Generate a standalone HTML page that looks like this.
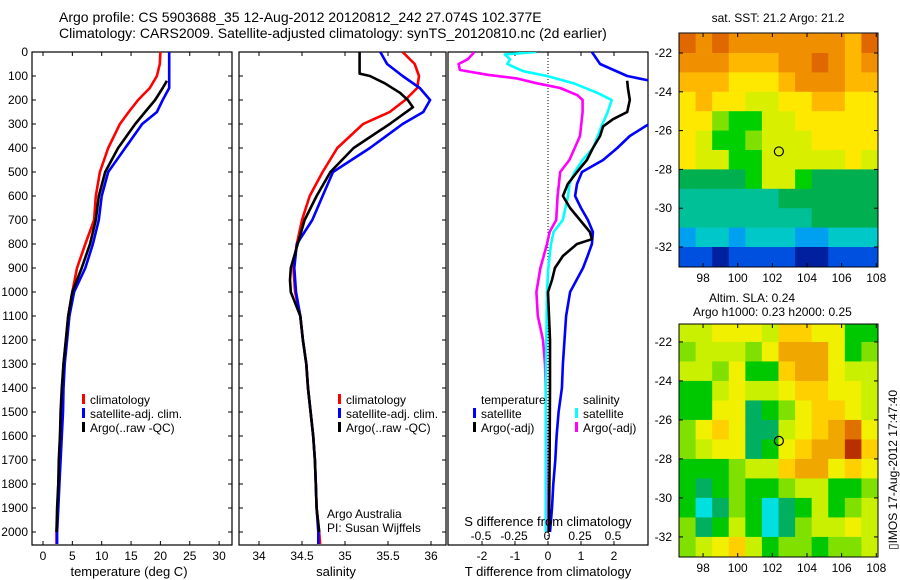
<!DOCTYPE html>
<html><head><meta charset="utf-8"><style>
body{margin:0;background:#fff}
svg{display:block;font-family:"Liberation Sans",sans-serif}
</style></head><body>
<svg id="fig" width="900" height="580" viewBox="0 0 900 580">
<rect width="900" height="580" fill="#fff"/>
<text x="59" y="22" font-size="14">Argo profile: CS 5903688_35 12-Aug-2012 20120812_242 27.074S 102.377E</text>
<text x="59" y="38" font-size="14">Climatology: CARS2009. Satellite-adjusted climatology: synTS_20120810.nc (2d earlier)</text>
<defs>
<clipPath id="c1"><rect x="32" y="52" width="200" height="493"/></clipPath>
<clipPath id="c2"><rect x="239" y="52" width="207" height="493"/></clipPath>
<clipPath id="c3"><rect x="448" y="52" width="200" height="493"/></clipPath>
</defs>
<g id="p1"></g>
<g id="p2"></g>
<g id="p3"></g>
<g id="m1"></g>
<g id="m2"></g>
<text x="129" y="576" font-size="13" text-anchor="middle">temperature (deg C)</text>
<text x="336" y="576" font-size="13" text-anchor="middle">salinity</text>
<text x="548" y="576" font-size="13" text-anchor="middle">T difference from climatology</text>
<text x="548" y="526" font-size="13" text-anchor="middle">S difference from climatology</text>
<text x="327" y="518" font-size="12">Argo Australia</text>
<text x="327" y="532" font-size="12">PI: Susan Wijffels</text>
<text x="778" y="22" font-size="12" text-anchor="middle">sat. SST: 21.2 Argo: 21.2</text>
<text x="709" y="302" font-size="12">Altim. SLA: 0.24</text>
<text x="693" y="316" font-size="12">Argo h1000: 0.23 h2000: 0.25</text>
<text transform="translate(897,470) rotate(-90)" font-size="12" text-anchor="middle">▯IMOS 17-Aug-2012 17:47:40</text>
</svg>
<script>
// ---- data ----
const depthT = [0,50,100,150,200,250,300,400,500,600,700,800,900,1000,1100,1200,1300,1400,1500,1600,1700,1800,1900,2000,2050];
const tempClim = [20.0,19.9,19.4,18.2,16.2,14.6,13.1,11.1,9.7,9.0,8.7,7.2,5.8,5.0,4.3,3.9,3.5,3.3,3.1,2.9,2.8,2.6,2.5,2.3,2.3];
const tempSat  = [21.5,21.5,21.5,21.5,20.4,19.4,16.9,14.0,11.1,10.0,9.5,8.5,7.2,5.3,4.5,4.1,3.7,3.5,3.4,3.2,3.0,2.8,2.6,2.4,2.4];
const depthArgo = [120,150,200,250,300,400,500,600,700,800,900,1000,1100,1200,1300,1400,1500,1600,1700,1800,1900,2000];
const tempArgo = [21.1,20.4,19.1,17.4,15.7,12.8,10.6,9.5,9.0,8.0,6.6,5.0,4.3,3.9,3.5,3.2,3.0,2.9,2.7,2.6,2.4,2.3];
const depthS = [0,50,100,150,200,250,300,400,500,600,700,800,900,1000,1100,1200,1300,1400,1500,1600,1700,1800,1900,2000,2050];
const salClim = [35.67,35.81,35.86,35.84,35.70,35.52,35.21,34.91,34.74,34.59,34.50,34.44,34.40,34.42,34.48,34.51,34.55,34.57,34.60,34.63,34.65,34.66,34.67,34.70,34.71];
const salSat  = [35.41,35.49,35.67,35.87,35.99,35.91,35.67,35.29,34.86,34.74,34.62,34.44,34.41,34.43,34.48,34.51,34.55,34.57,34.60,34.63,34.65,34.66,34.67,34.69,34.69];
const depthSA = [0,90,100,130,170,200,230,300,400,500,600,700,800,900,950,1000,1100,1200,1300,1400,1500,1600,1700,1800,1900,2000];
const salArgo = [35.17,35.17,35.29,35.46,35.64,35.73,35.79,35.52,35.10,34.83,34.67,34.53,34.45,34.37,34.36,34.37,34.48,34.51,34.55,34.57,34.60,34.63,34.65,34.66,34.67,34.70];
const depthD = [0,50,100,120,150,200,250,300,350,400,450,500,550,600,650,700,750,800,850,900,1000,1100,1200,1300,1400,1500,1600,1700,1800,1900,2000];
const dTsat = [1.33,1.58,2.4,3.1,3.6,3.9,3.6,3.06,2.48,2.1,1.67,1.03,0.88,0.82,1.0,1.21,1.36,1.33,1.2,1.06,0.67,0.55,0.5,0.45,0.42,0.32,0.26,0.22,0.16,0.12,0.06];
const depthDA = [120,150,200,250,280,310,350,400,450,500,550,600,650,700,750,780,800,850,900,950,1000,1200,1400,1700,2000];
const dTargo = [2.4,2.42,2.48,2.4,1.97,1.67,1.58,1.36,1.18,0.88,0.6,0.45,0.67,0.97,1.27,1.33,0.88,0.45,0.21,0.12,0.0,0.06,0.06,0.05,0.03];
const depthDS = [0,10,30,50,80,100,130,170,200,250,300,400,450,500,550,600,700,750,800,900,1000,1400,2000];
const dSsat = [-0.08,-0.32,-0.28,-0.30,-0.18,0.0,0.2,0.38,0.49,0.46,0.42,0.35,0.27,0.21,0.17,0.16,0.12,0.05,0.03,0.01,0.0,-0.01,-0.01];
const depthDSA = [0,30,50,75,95,110,130,150,180,200,250,300,350,400,450,500,550,600,700,750,800,900,1000,1100,1200,1300,1400,2000];
const dSargo = [-0.55,-0.6,-0.67,-0.66,-0.45,-0.23,-0.08,0.1,0.23,0.27,0.27,0.26,0.25,0.21,0.17,0.1,0.09,0.08,0.07,0.02,0.0,-0.05,-0.08,-0.07,-0.03,-0.015,-0.01,0.0];
const depthTicks = [0,100,200,300,400,500,600,700,800,900,1000,1100,1200,1300,1400,1500,1600,1700,1800,1900,2000];
const tempTicks = [0,5,10,15,20,25,30];
const salTicks = [34,34.5,35,35.5,36];
const salTickLabels = ["34","34.5","35","35.5","36"];
const dTTicks = [-2,-1,0,1,2];
const dSTicks = [-0.5,-0.25,0,0.25,0.5];
const dSTickLabels = ["-0.5","-0.25","0","0.25","0.5"];
const lonTicks = [98,100,102,104,106,108];
const latTicks = [-22,-24,-26,-28,-30,-32];
const argoLon = 102.377, argoLat = -27.074;
const sstGrid = [
[12,11,12,11,11,11,11,11,11,11,10,12],
[11,11,11,10,10,10,11,11,12,11,10,11],
[10,10,10,9,9,9,10,11,11,11,10,10],
[9,10,9,9,8,8,9,9,10,10,9,9],
[9,9,7,6,6,8,8,9,9,9,9,9],
[9,8,6,6,7,8,8,8,9,9,9,9],
[9,8,8,6,6,8,8,8,8,8,9,8],
[5,5,5,5,6,8,8,6,5,5,5,5],
[4,4,4,4,4,4,5,5,5,5,5,5],
[4,4,4,4,4,4,4,4,5,5,5,5],
[2,3,3,2,3,3,3,2,2,3,3,3],
[1,1,0,1,1,1,1,0,0,1,1,1]];
const slaGrid = [
[4,4,5,5,5,4,6,6,5,5,2,2],
[3,4,4,4,3,5,7,7,7,5,2,3],
[4,4,3,5,2,2,6,7,7,5,4,4],
[2,2,4,5,4,4,5,6,6,5,5,4],
[2,2,5,5,1,2,3,5,6,6,5,4],
[3,5,6,5,1,1,4,5,6,7,8,5],
[3,4,5,5,1,2,5,6,7,7,9,6],
[2,2,2,3,4,4,6,7,7,5,6,5],
[2,1,2,3,2,2,3,4,4,2,2,3],
[2,0,1,3,2,0,1,2,4,2,3,4],
[3,1,2,4,2,0,1,3,4,4,5,4],
[3,4,5,6,4,2,3,3,2,3,3,4]];
// ---- helpers ----
const NS="http://www.w3.org/2000/svg";
function mk(tag,attrs,parent){const e=document.createElementNS(NS,tag);for(const k in attrs)e.setAttribute(k,attrs[k]);parent.appendChild(e);return e;}
const yD=d=>52+0.24*d;
const xT=t=>43+5.87*t;
const xS=s=>259+86*(s-34);
const xdT=t=>548+33*t;
const xdS=s=>547+132*s;
function line(g,xs,ds,fx,color,name,w){
  const pts=xs.map((v,i)=>fx(v).toFixed(1)+","+yD(ds[i]).toFixed(1)).join(" ");
  const p=mk("polyline",{points:pts,fill:"none",stroke:color,"stroke-width":w||2.6,"stroke-linejoin":"round"},g);
  
  
}
function frame(g,x,w,name){
  const r=mk("rect",{x:x,y:52,width:w,height:493,fill:"none",stroke:"#000","stroke-width":1.2},g);
  
  
}
function legend(g,x,y,color,label,name){
  mk("rect",{x:x,y:y-10,width:3,height:10,fill:color},g);
  const t=mk("text",{x:x+8,y:y,"font-size":12},g);t.textContent=label;
  
  
}
// ---- panel 1 ----
const p1=document.getElementById("p1");
frame(p1,32,200,"temperature-plot-frame");
depthTicks.forEach(d=>{
  mk("line",{x1:32,x2:36,y1:yD(d),y2:yD(d),stroke:"#000"},p1);
  mk("line",{x1:228,x2:232,y1:yD(d),y2:yD(d),stroke:"#000"},p1);
  const t=mk("text",{x:28,y:yD(d)+4,"font-size":12,"text-anchor":"end"},p1);t.textContent=d;
  
  
});
tempTicks.forEach(v=>{
  mk("line",{x1:xT(v),x2:xT(v),y1:52,y2:56,stroke:"#000"},p1);
  mk("line",{x1:xT(v),x2:xT(v),y1:541,y2:545,stroke:"#000"},p1);
  const t=mk("text",{x:xT(v),y:560,"font-size":12,"text-anchor":"middle"},p1);t.textContent=v;
  
  
});
const g1=mk("g",{"clip-path":"url(#c1)"},p1);
line(g1,tempClim,depthT,xT,"#f00","temperature-climatology-line");
line(g1,tempSat,depthT,xT,"#00f","temperature-satellite-line");
line(g1,tempArgo,depthArgo,xT,"#000","temperature-argo-line");
legend(p1,82,404,"#f00","climatology","legend-climatology");
legend(p1,82,418,"#00f","satellite-adj. clim.","legend-satellite-adj");
legend(p1,82,432,"#000","Argo(..raw -QC)","legend-argo");
// ---- panel 2 ----
const p2=document.getElementById("p2");
frame(p2,239,207,"salinity-plot-frame");
depthTicks.forEach(d=>{
  mk("line",{x1:239,x2:243,y1:yD(d),y2:yD(d),stroke:"#000"},p2);
  mk("line",{x1:442,x2:446,y1:yD(d),y2:yD(d),stroke:"#000"},p2);
});
salTicks.forEach((v,i)=>{
  mk("line",{x1:xS(v),x2:xS(v),y1:52,y2:56,stroke:"#000"},p2);
  mk("line",{x1:xS(v),x2:xS(v),y1:541,y2:545,stroke:"#000"},p2);
  const t=mk("text",{x:xS(v),y:560,"font-size":12,"text-anchor":"middle"},p2);t.textContent=salTickLabels[i];
  
  
});
const g2=mk("g",{"clip-path":"url(#c2)"},p2);
line(g2,salClim,depthS,xS,"#f00","salinity-climatology-line");
line(g2,salSat,depthS,xS,"#00f","salinity-satellite-line");
line(g2,salArgo,depthSA,xS,"#000","salinity-argo-line");
legend(p2,338,404,"#f00","climatology","legend-sal-climatology");
legend(p2,338,418,"#00f","satellite-adj. clim.","legend-sal-satellite-adj");
legend(p2,338,432,"#000","Argo(..raw -QC)","legend-sal-argo");
// ---- panel 3 ----
const p3=document.getElementById("p3");
frame(p3,448,200,"difference-plot-frame");
const zl=mk("line",{x1:548,x2:548,y1:52,y2:545,stroke:"#000","stroke-dasharray":"1,2","stroke-width":1},p3);


dTTicks.forEach(v=>{
  mk("line",{x1:xdT(v),x2:xdT(v),y1:52,y2:56,stroke:"#000"},p3);
  mk("line",{x1:xdT(v),x2:xdT(v),y1:541,y2:545,stroke:"#000"},p3);
  const t=mk("text",{x:xdT(v),y:560,"font-size":12,"text-anchor":"middle"},p3);t.textContent=v;
  
  
});
const g3=mk("g",{"clip-path":"url(#c3)"},p3);
line(g3,dSargo,depthDSA,xdS,"#f0f","salinity-argo-diff-line");
line(g3,dSsat,depthDS,xdS,"#0ff","salinity-satellite-diff-line");
line(g3,dTsat,depthD,xdT,"#00f","temperature-satellite-diff-line");
line(g3,dTargo,depthDA,xdT,"#000","temperature-argo-diff-line");
dSTicks.forEach((v,i)=>{
  const t=mk("text",{x:xdS(v),y:540,"font-size":12,"text-anchor":"middle"},p3);t.textContent=dSTickLabels[i];
  
  
});
const lt=mk("text",{x:481,y:404,"font-size":12},p3);lt.textContent="temperature";


const ls=mk("text",{x:583,y:404,"font-size":12},p3);ls.textContent="salinity";


legend(p3,473,418,"#00f","satellite","legend-t-satellite");
legend(p3,473,432,"#000","Argo(-adj)","legend-t-argo");
legend(p3,575,418,"#0ff","satellite","legend-s-satellite");
legend(p3,575,432,"#f0f","Argo(-adj)","legend-s-argo");
// ---- maps ----
const sstColors=["#0020a0","#0050e0","#00a0f0","#00c8c8","#00c098","#00b050","#00d000","#80e000","#d8f000","#ffe800","#ffb800","#f09000","#e06800","#c04000"];
const slaColors=["#00e0e0","#00b060","#00c800","#80e000","#c8f000","#f0f000","#ffd000","#f0a800","#e07000","#b83000"];
function drawMap(g,grid,colors,top,bottom,latTop,latBot,name){
  const left=679,right=878,lon0=96.61,lon1=108.1;
  const xL=l=>left+(l-lon0)*(right-left)/(lon1-lon0);
  const yL=l=>top+(latTop-l)*(bottom-top)/(latTop-latBot);
  const rows=grid.length,cols=grid[0].length;
  grid.forEach((row,r)=>row.forEach((v,c)=>{
    const la0=-21-r, la1=-22-r;
    const lo0=lon0+c*(lon1-lon0)/cols, lo1=lon0+(c+1)*(lon1-lon0)/cols;
    const y0=Math.max(top,yL(la0)), y1=Math.min(bottom,yL(la1));
    const cell=mk("rect",{x:xL(lo0),y:y0,width:xL(lo1)-xL(lo0)+0.5,height:Math.max(0,y1-y0)+0.5,fill:colors[v]},g);
    
    
  }));
  if(yL(-33)<bottom){grid[rows-1].forEach((v,c)=>{
    const lo0=lon0+c*(lon1-lon0)/cols, lo1=lon0+(c+1)*(lon1-lon0)/cols;
    mk("rect",{x:xL(lo0),y:yL(-33),width:xL(lo1)-xL(lo0)+0.5,height:bottom-yL(-33),fill:colors[v]},g);
  });}
  const fr=mk("rect",{x:left,y:top,width:right-left,height:bottom-top,fill:"none",stroke:"#000"},g);
  
  
  const c=mk("circle",{cx:xL(argoLon),cy:yL(argoLat),r:4.5,fill:"none",stroke:"#000","stroke-width":1.2},g);
  
  
  lonTicks.forEach(l=>{
    mk("line",{x1:xL(l),x2:xL(l),y1:bottom,y2:bottom-4,stroke:"#000"},g);
    mk("line",{x1:xL(l),x2:xL(l),y1:top,y2:top+4,stroke:"#000"},g);
    const t=mk("text",{x:xL(l),y:bottom+15,"font-size":12,"text-anchor":"middle"},g);t.textContent=l;
    
    
  });
  latTicks.forEach(l=>{
    mk("line",{x1:left,x2:left+4,y1:yL(l),y2:yL(l),stroke:"#000"},g);
    mk("line",{x1:right-4,x2:right,y1:yL(l),y2:yL(l),stroke:"#000"},g);
    const t=mk("text",{x:672,y:yL(l)+4,"font-size":12,"text-anchor":"end"},g);t.textContent=l;
    
    
  });
}
drawMap(document.getElementById("m1"),sstGrid,sstColors,33,267,-20.97,-33.03,"sst-map");
drawMap(document.getElementById("m2"),slaGrid,slaColors,324,557,-21.08,-33.03,"sla-map");
</script>
</body></html>
